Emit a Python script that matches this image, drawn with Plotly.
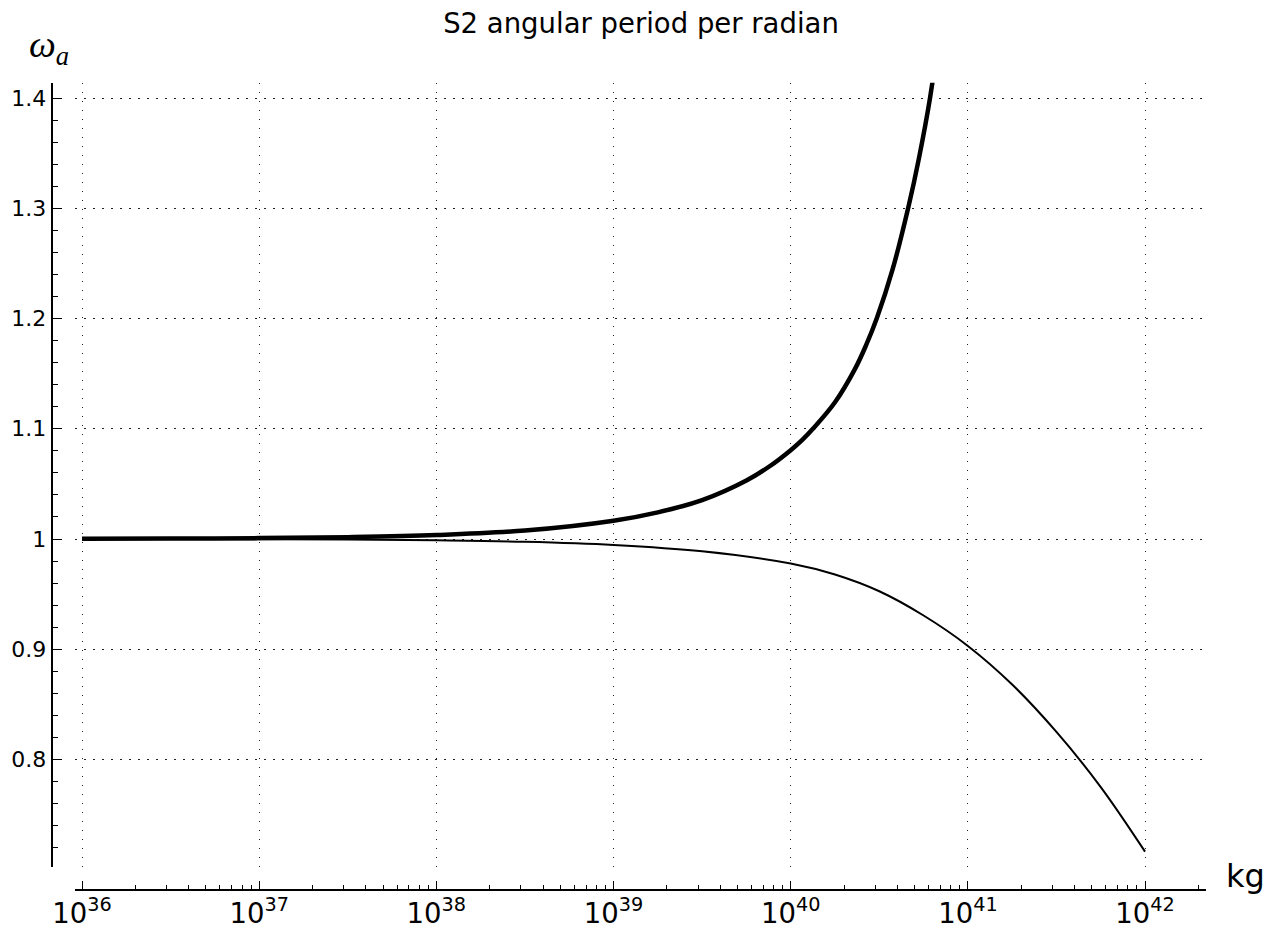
import plotly.graph_objects as go

# log10 of mass (kg) and omega_a values
thick_log_mass = [36.0, 36.5, 37.0, 37.5, 38.0, 38.5, 39.0, 39.25, 39.5, 39.75,
                  39.875, 40.0, 40.064, 40.128, 40.25, 40.363, 40.425, 40.486, 40.575,
                  40.664, 40.724, 40.786, 40.82]
thick_omega = [1.0002, 1.0004, 1.0008, 1.0017, 1.0036, 1.0077, 1.0166, 1.0242, 1.0352, 1.0530,
               1.0653, 1.0806, 1.0897, 1.1004, 1.1240, 1.1543, 1.1756, 1.2002, 1.2445,
               1.3009, 1.3455, 1.3997, 1.4378]

thin_log_mass = [36.0, 36.5, 37.0, 37.5, 38.0, 38.5, 39.0, 39.5, 40.0, 40.25,
                 40.5, 40.75, 41.0, 41.25, 41.5, 41.75, 42.0]
thin_omega = [1.0, 0.99995, 0.9998, 0.9995, 0.9988, 0.9975, 0.9946, 0.9888, 0.9778, 0.9678,
              0.9526, 0.9306, 0.9030, 0.8680, 0.8250, 0.7750, 0.7164]

title_text = "S2 angular period per radian"
x_label = "kg"
y_label = "<i>ω</i><sub><i>a</i></sub>"

W, H = 1282, 929
OFF = 8  # page body margin
def px_x(p):
    return (p - OFF) / W
def px_y(p):
    return 1 - (p - OFF) / H

thick_mass = [10 ** v for v in thick_log_mass]
thin_mass = [10 ** v for v in thin_log_mass]

fig = go.Figure()
fig.add_trace(go.Scatter(x=thin_mass, y=thin_omega, mode="lines",
                         line=dict(color="black", width=2, shape="spline", smoothing=1.0),
                         showlegend=False, hoverinfo="skip"))
fig.add_trace(go.Scatter(x=thick_mass, y=thick_omega, mode="lines",
                         line=dict(color="black", width=4.5, shape="spline", smoothing=1.0),
                         showlegend=False, hoverinfo="skip"))

grid_dash = "1.5px,7.5px"
fig.update_layout(
    width=W, height=H,
    margin=dict(l=0, r=0, t=0, b=0, autoexpand=False),
    paper_bgcolor="white", plot_bgcolor="white",
    font=dict(family="DejaVu Sans", color="black"),
    title=dict(text=title_text, x=px_x(641), xanchor="center", xref="container",
               y=px_y(23), yanchor="middle", yref="container",
               font=dict(size=27.5, family="DejaVu Sans", color="black")),
    xaxis=dict(type="log", range=[35.9605, 42.344],
               domain=[px_x(75), px_x(1206)],
               anchor="free", position=px_y(890), automargin=False,
               showline=True, linecolor="black", linewidth=2,
               ticks="inside", ticklen=8, tickwidth=1, tickcolor="black",
               dtick=1, exponentformat="power", showexponent="all",
               tickfont=dict(size=22, family="DejaVu Sans", color="black"),
               showgrid=True, gridcolor="#222222", gridwidth=1.3, griddash=grid_dash,
               zeroline=False,
               minor=dict(ticks="inside", ticklen=4, tickwidth=1, tickcolor="black",
                          dtick="D1", showgrid=False)),
    yaxis=dict(range=[0.70277, 1.41388],
               domain=[px_y(866.7), px_y(82.7)],
               anchor="free", position=px_x(51.7), automargin=False,
               showline=True, linecolor="black", linewidth=2,
               ticks="inside", ticklen=9, tickwidth=1, tickcolor="black",
               dtick=0.1, tick0=0,
               tickfont=dict(size=22, family="DejaVu Sans", color="black"),
               showgrid=True, gridcolor="#222222", gridwidth=1.3, griddash=grid_dash,
               zeroline=False,
               minor=dict(ticks="inside", ticklen=5, tickwidth=1, tickcolor="black",
                          dtick=0.02, tick0=0, showgrid=False)),
    annotations=[
        dict(text=x_label, x=px_x(1224), y=px_y(876), xref="paper", yref="paper",
             xanchor="left", yanchor="middle", showarrow=False,
             font=dict(size=32, family="DejaVu Sans", color="black")),
        dict(text=y_label, x=px_x(27), y=px_y(47), xref="paper", yref="paper",
             xanchor="left", yanchor="middle", showarrow=False,
             font=dict(size=38, family="Liberation Serif", color="black")),
    ],
)

fig.write_html("out.html")
